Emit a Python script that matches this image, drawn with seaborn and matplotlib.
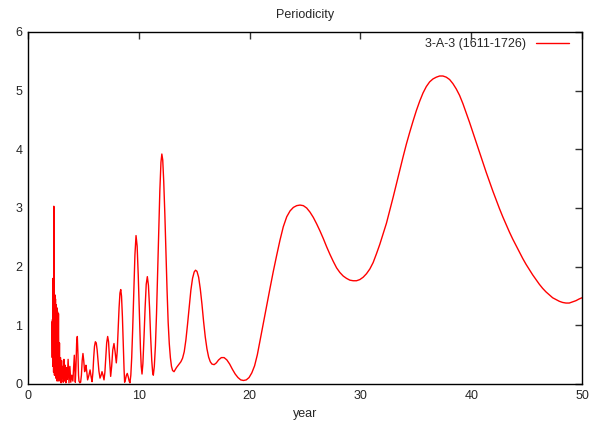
import numpy as np
import pandas as pd
import matplotlib
matplotlib.use("Agg")
import matplotlib.pyplot as plt
import seaborn as sns

# period (years), with the periodogram value at each
year = [
    2.17, 2.19, 2.21, 2.23, 2.25, 2.27, 2.29, 2.31, 2.33, 2.35, 2.37, 2.39,
    2.42, 2.45, 2.48, 2.51, 2.54, 2.57, 2.60, 2.63, 2.67, 2.71, 2.75, 2.79,
    2.84, 2.88, 2.93, 2.98, 3.03, 3.08, 3.13, 3.18, 3.24, 3.30, 3.36, 3.42,
    3.48, 3.55, 3.62, 3.70, 3.78, 3.86, 3.95, 4.05, 4.12, 4.18, 4.23, 4.27,
    4.33, 4.39, 4.45, 4.51, 4.56, 4.60, 4.68, 4.75, 4.82, 4.89, 4.96, 5.03,
    5.11, 5.17, 5.23, 5.30, 5.38, 5.50, 5.60, 5.70, 5.78, 5.86, 5.93, 6.00,
    6.08, 6.16, 6.24, 6.32, 6.40, 6.50, 6.60, 6.68, 6.77, 6.86, 6.94, 7.02,
    7.10, 7.19, 7.27, 7.35, 7.46, 7.55, 7.65, 7.76, 7.86, 7.97, 8.05, 8.13,
    8.22, 8.30, 8.37, 8.44, 8.52, 8.60, 8.67, 8.72, 8.80, 8.88, 8.96, 9.05,
    9.13, 9.20, 9.28, 9.36, 9.45, 9.55, 9.65, 9.75, 9.85, 9.95, 10.05, 10.15,
    10.22, 10.29, 10.37, 10.47, 10.57, 10.67, 10.77, 10.87, 10.97, 11.07, 11.17, 11.25,
    11.31, 11.40, 11.50, 11.60, 11.70, 11.80, 11.90, 12.00, 12.08, 12.16, 12.25, 12.35,
    12.45, 12.55, 12.65, 12.75, 12.85, 12.95, 13.05, 13.18, 13.40, 13.60, 13.80, 13.95,
    14.10, 14.25, 14.40, 14.55, 14.70, 14.85, 15.00, 15.12, 15.25, 15.40, 15.55, 15.70,
    15.85, 16.00, 16.15, 16.30, 16.45, 16.60, 16.80, 17.00, 17.20, 17.45, 17.70, 17.95,
    18.20, 18.45, 18.70, 18.95, 19.20, 19.45, 19.70, 19.95, 20.20, 20.45, 20.70, 20.95,
    21.24, 21.54, 21.84, 22.14, 22.44, 22.74, 23.04, 23.35, 23.65, 23.95, 24.25, 24.55,
    24.85, 25.15, 25.45, 25.75, 26.05, 26.35, 26.65, 26.95, 27.25, 27.55, 27.85, 28.15,
    28.45, 28.75, 29.05, 29.35, 29.65, 29.95, 30.25, 30.55, 30.85, 31.15, 31.45, 31.75,
    32.05, 32.35, 32.65, 32.95, 33.25, 33.55, 33.85, 34.15, 34.45, 34.75, 35.05, 35.35,
    35.65, 35.95, 36.25, 36.55, 36.85, 37.15, 37.45, 37.75, 38.05, 38.35, 38.65, 38.95,
    39.25, 39.55, 39.85, 40.15, 40.45, 40.75, 41.05, 41.35, 41.65, 41.95, 42.25, 42.55,
    42.85, 43.15, 43.45, 43.75, 44.05, 44.35, 44.65, 44.95, 45.25, 45.55, 45.85, 46.15,
    46.45, 46.75, 47.05, 47.35, 47.65, 47.95, 48.25, 48.55, 48.85, 49.15, 49.45, 49.75,
    50.00,
]
power = [
    1.06, 0.45, 1.10, 0.30, 1.80, 0.60, 1.40, 0.20, 3.03, 0.80, 1.55, 0.15,
    1.52, 0.30, 1.45, 0.10, 1.35, 0.50, 1.30, 0.05, 1.23, 0.25, 1.20, 0.05,
    0.70, 0.10, 0.45, 0.02, 0.40, 0.10, 0.30, 0.03, 0.42, 0.05, 0.32, 0.02,
    0.28, 0.08, 0.42, 0.02, 0.30, 0.03, 0.15, 0.05, 0.30, 0.49, 0.25, 0.03,
    0.30, 0.70, 0.81, 0.50, 0.15, 0.05, 0.02, 0.03, 0.15, 0.40, 0.52, 0.40,
    0.21, 0.25, 0.32, 0.22, 0.07, 0.15, 0.24, 0.12, 0.04, 0.20, 0.45, 0.64,
    0.72, 0.70, 0.58, 0.40, 0.22, 0.10, 0.15, 0.21, 0.15, 0.07, 0.20, 0.45,
    0.70, 0.81, 0.72, 0.45, 0.13, 0.30, 0.58, 0.69, 0.55, 0.36, 0.55, 0.90,
    1.30, 1.55, 1.61, 1.50, 1.15, 0.65, 0.25, 0.03, 0.08, 0.15, 0.18, 0.12,
    0.05, 0.02, 0.15, 0.45, 0.95, 1.60, 2.20, 2.53, 2.35, 1.85, 1.20, 0.60,
    0.30, 0.17, 0.35, 0.80, 1.30, 1.70, 1.83, 1.68, 1.30, 0.80, 0.40, 0.20,
    0.15, 0.30, 0.65, 1.20, 1.90, 2.65, 3.30, 3.78, 3.92, 3.82, 3.45, 2.90,
    2.25, 1.60, 1.05, 0.69, 0.45, 0.30, 0.23, 0.21, 0.28, 0.33, 0.38, 0.44,
    0.55, 0.75, 1.02, 1.32, 1.60, 1.80, 1.91, 1.94, 1.92, 1.82, 1.62, 1.36,
    1.06, 0.80, 0.60, 0.46, 0.38, 0.34, 0.33, 0.36, 0.41, 0.45, 0.45, 0.41,
    0.34, 0.25, 0.17, 0.11, 0.07, 0.06, 0.07, 0.11, 0.19, 0.31, 0.50, 0.75,
    1.05, 1.35, 1.63, 1.92, 2.19, 2.45, 2.68, 2.85, 2.95, 3.01, 3.04, 3.05,
    3.04, 3.00, 2.93, 2.84, 2.73, 2.61, 2.48, 2.34, 2.21, 2.09, 1.98, 1.90,
    1.84, 1.80, 1.77, 1.76, 1.76, 1.78, 1.82, 1.88, 1.96, 2.07, 2.22, 2.38,
    2.56, 2.74, 2.96, 3.18, 3.41, 3.64, 3.87, 4.09, 4.29, 4.48, 4.66, 4.82,
    4.96, 5.07, 5.15, 5.20, 5.23, 5.25, 5.25, 5.23, 5.19, 5.12, 5.03, 4.92,
    4.78, 4.62, 4.46, 4.29, 4.12, 3.95, 3.78, 3.61, 3.45, 3.29, 3.14, 2.99,
    2.85, 2.72, 2.59, 2.47, 2.36, 2.25, 2.14, 2.04, 1.95, 1.86, 1.78, 1.70,
    1.63, 1.57, 1.52, 1.47, 1.44, 1.41, 1.39, 1.38, 1.38, 1.40, 1.42, 1.45,
    1.47,
]
series_label = "3-A-3 (1611-1726)"
x_ticks = [0, 10, 20, 30, 40, 50]
y_ticks = [0, 1, 2, 3, 4, 5, 6]

df = pd.DataFrame({"year": year, "power": power})

sns.set_style("white")
plt.rcParams["font.family"] = ["Liberation Sans", "DejaVu Sans"]

fig = plt.figure(figsize=(5.96, 4.22), dpi=100)
ax = fig.add_axes([28 / 596, 38 / 422, 554 / 596, 352 / 422])

sns.lineplot(data=df, x="year", y="power", color="#ff0000", linewidth=1.0,
             estimator=None, label=series_label, ax=ax)

ax.set_xlim(0, 50)
ax.set_ylim(0, 6)
ax.set_xticks(x_ticks)
ax.set_yticks(y_ticks)
ax.tick_params(direction="in", top=True, right=True, length=5, width=1,
               color="#333333", labelsize=9, pad=4)
for s in ax.spines.values():
    s.set_color("black")
    s.set_linewidth(1.0)

ax.set_title("Periodicity", fontsize=9, pad=10)
ax.set_xlabel("year", fontsize=9, labelpad=5)
ax.set_ylabel("")

ax.legend(loc="upper right", frameon=False, markerfirst=False, fontsize=9,
          handlelength=2.6, borderaxespad=0.3, bbox_to_anchor=(0.992, 1.008))

fig.savefig("out.png", dpi=100)
